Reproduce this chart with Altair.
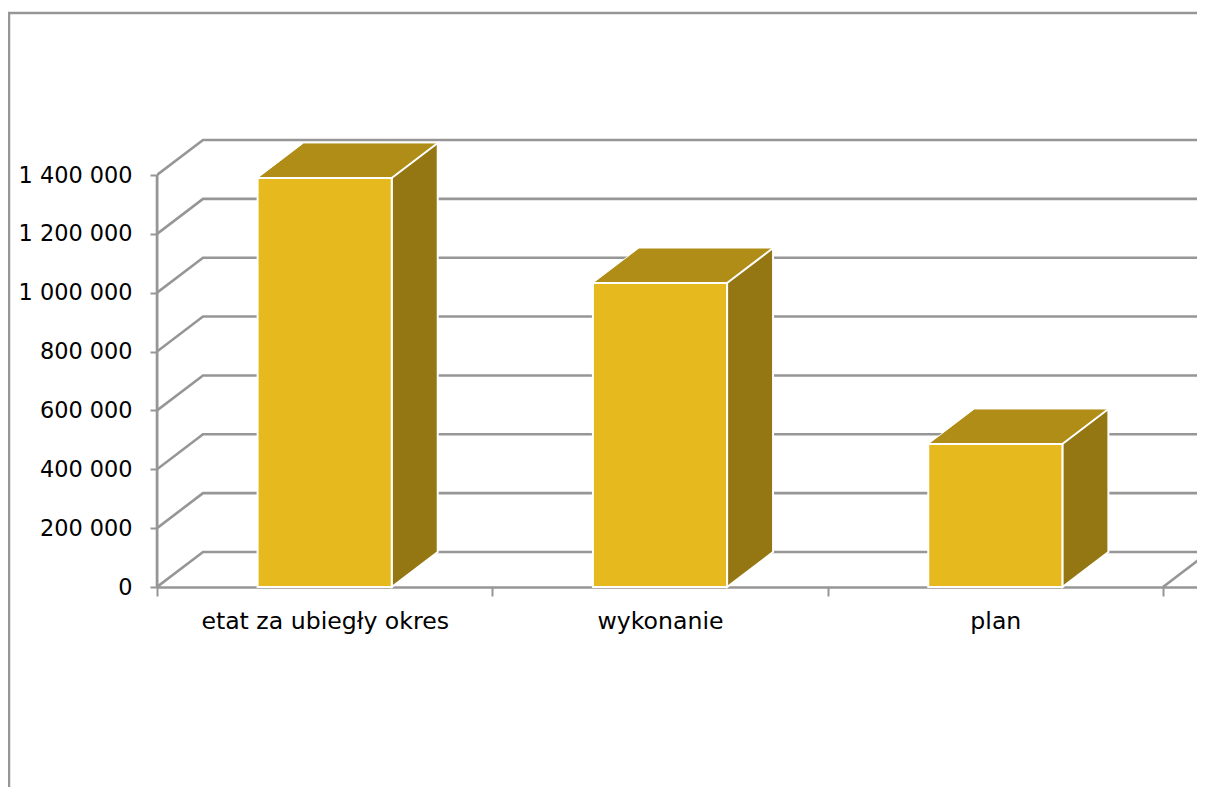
import altair as alt
import pandas as pd

categories = ["etat za ubiegły okres", "wykonanie", "plan"]
values = [1390000, 1033000, 486000]
ticks = [0, 200000, 400000, 600000, 800000, 1000000, 1200000, 1400000]

GRAY = "#969696"
FONT = "DejaVu Sans"
PX_X = 335.33          # pixels per category
PX_Y = 412 / 1400000   # pixels per value unit
DX = 46 / PX_X         # depth, x units
DY = 35 / PX_Y         # depth, y units
XMIN, XMAX = -149 / PX_X, 1040 / PX_X
YMAX = 579 / PX_Y
BW = 0.4

x_scale = alt.Scale(domain=[0, XMAX], nice=False, zero=False)
y_scale = alt.Scale(domain=[0, YMAX], nice=False, zero=False)
X = alt.X("x:Q", scale=x_scale, title=None,
          axis=alt.Axis(orient="bottom", values=[0, 1, 2, 3], labels=False, tickSize=9, tickWidth=2,
                        tickColor=GRAY, domainColor=GRAY, domainWidth=2.5, grid=False))
Xp = alt.X("x:Q", scale=x_scale, title=None, axis=None)
Y = alt.Y("y:Q", scale=y_scale, title=None,
          axis=alt.Axis(orient="left", values=ticks[:], tickSize=7, tickWidth=2, tickColor=GRAY,
                        domain=False, grid=False, labelFont=FONT,
                        labelFontSize=22.4, labelColor="#000000", labelPadding=18,
                        labelExpr="replace(format(datum.value, ','), regexp(',', 'g'), ' ')"))
Yp = alt.Y("y:Q", scale=y_scale, title=None, axis=None)

# value axis line, back wall and floor lines
grid_rows = [dict(k=-2, x=0, y=0), dict(k=-2, x=0, y=ticks[-1])]
for t in ticks:
    grid_rows += [dict(k=t, x=0, y=t), dict(k=t, x=DX, y=t + DY), dict(k=t, x=3 + DX, y=t + DY)]
grid_rows += [dict(k=-1, x=3, y=0), dict(k=-1, x=3 + DX, y=DY)]
grid = alt.Chart(pd.DataFrame(grid_rows)).mark_line(color=GRAY, strokeWidth=2.6, clip=True).encode(
    x=Xp, y=Yp, detail="k:N")
grid_left = alt.Chart(pd.DataFrame(grid_rows[:2])).mark_line(color=GRAY, strokeWidth=2.6).encode(x=Xp, y=Yp)

# frame of the chart
frame = alt.Chart(pd.DataFrame({"x": [XMIN + 1 / PX_X, XMIN + 1 / PX_X, XMAX],
                                "y": [-200 / PX_Y, 574 / PX_Y, 574 / PX_Y],
                                "o": [0, 1, 2]})).mark_line(
    color=GRAY, strokeWidth=2.5, clip=False).encode(x=Xp, y=Yp, order=alt.Order("o:Q"))

# category label axis: ticks between categories, labels at centres
label_axis = alt.Chart(pd.DataFrame({"x": [0.5, 1.5, 2.5], "c": categories})).mark_point(opacity=0).encode(
    x=alt.X("x:Q", scale=x_scale, title=None,
            axis=alt.Axis(orient="bottom", values=[0.5, 1.5, 2.5], domain=False, ticks=False, grid=False,
                          labelFont=FONT, labelFontSize=23.6, labelColor="#000000", labelPadding=22,
                          labelLimit=500,
                          labelExpr="datum.value < 1 ? '%s' : datum.value < 2 ? '%s' : '%s'" % tuple(categories))),
    y=alt.datum(0, scale=y_scale, axis=None))

layers = [frame, grid, grid_left]
for i, v in enumerate(values):
    x0 = i + 0.5 - BW / 2
    x1 = x0 + BW
    front = alt.Chart(pd.DataFrame({"x": [x0], "x2": [x1], "y": [0], "y2": [v]})).mark_rect(
        color="#E6B91E", stroke="#FFFFFF", strokeWidth=2).encode(
        x=Xp, x2="x2:Q", y=Yp, y2="y2:Q")
    side = alt.Chart(pd.DataFrame({"x": [x1, x1 + DX], "y": [v, v + DY], "y2": [0, DY]})).mark_area(
        color="#947612", stroke="#FFFFFF", strokeWidth=2, orient="vertical").encode(x=Xp, y=Yp, y2="y2:Q")
    top = alt.Chart(pd.DataFrame({"x": [x0, x0 + DX, x1, x1 + DX],
                                  "y": [v, v + DY, v + DY, v + DY],
                                  "y2": [v, v, v, v + DY]})).mark_area(
        color="#B08D16", stroke="#FFFFFF", strokeWidth=1, orient="vertical").encode(x=Xp, y=Yp, y2="y2:Q")
    layers += [top, side, front]

axes = alt.Chart(pd.DataFrame({"x": [0], "y": [0]})).mark_point(opacity=0).encode(x=X, y=Y)

chart = alt.layer(axes, label_axis, *layers).resolve_axis(x="independent", y="independent").properties(
    width=1040, height=579,
    padding={"left": 149, "top": 0, "right": 0, "bottom": 200},
    autosize=alt.AutoSizeParams(type="none"),
).configure_view(stroke=None)

chart.save("out.html", embed_options={"renderer": "svg", "actions": False})
